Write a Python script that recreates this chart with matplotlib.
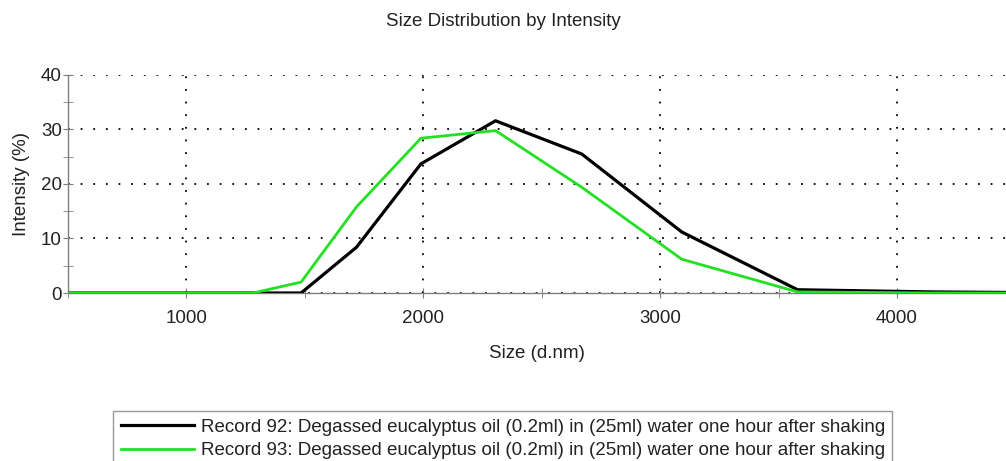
import matplotlib
matplotlib.use("Agg")
import matplotlib.pyplot as plt
from matplotlib.ticker import MultipleLocator

plt.rcParams["font.family"] = ["Liberation Sans", "DejaVu Sans"]

# size bins (d.nm) and intensity (%)
size_nm = [458.7, 531.2, 615.1, 712.4, 825.0, 955.4, 1106, 1281, 1484, 1718,
           1990, 2305, 2669, 3091, 3580, 4145, 4801]
rec92 = [0, 0, 0, 0, 0, 0, 0, 0, 0, 8.4, 23.7, 31.6, 25.5, 11.2, 0.6, 0.2, 0]
rec93 = [0, 0, 0, 0, 0, 0, 0, 0, 2.0, 15.8, 28.4, 29.8, 19.4, 6.2, 0.2, 0, 0]
labels = ["Record 92: Degassed eucalyptus oil (0.2ml) in (25ml) water one hour after shaking",
          "Record 93: Degassed eucalyptus oil (0.2ml) in (25ml) water one hour after shaking"]

C92, C93 = "#000000", "#22e022"
FG = "#222222"
SPINE = "#7f7f7f"
FS = 13.5

fig = plt.figure(figsize=(10.06, 4.61), dpi=100)
ax = fig.add_axes([68 / 1006, 1 - 293 / 461, 1 - 68 / 1006, (293 - 75) / 461])

l1, = ax.plot(size_nm, rec92, color=C92, lw=2.3, label=labels[0], zorder=3)
l2, = ax.plot(size_nm, rec93, color=C93, lw=2.0, label=labels[1], zorder=4)

ax.set_xlim(500, 4460)
ax.set_ylim(0, 40)
ax.xaxis.set_major_locator(MultipleLocator(1000))
ax.xaxis.set_minor_locator(MultipleLocator(500))
ax.yaxis.set_major_locator(MultipleLocator(10))
ax.yaxis.set_minor_locator(MultipleLocator(5))

ax.grid(True, which="major", color="black", linestyle=(0, (1, 6)), linewidth=1.3)
for s in ("top", "right"):
    ax.spines[s].set_visible(False)
for s in ("left", "bottom"):
    ax.spines[s].set_color(SPINE)
    ax.spines[s].set_linewidth(1.0)

ax.tick_params(axis="both", which="both", direction="inout", length=7, color=SPINE,
               labelsize=FS, labelcolor=FG)
ax.tick_params(axis="x", which="major", pad=9)
ax.tick_params(axis="y", which="major", pad=1)

ax.set_xlabel("Size (d.nm)", fontsize=FS, color=FG, labelpad=13)
ax.set_ylabel("Intensity (%)", fontsize=FS, color=FG, labelpad=8)
fig.text(0.5, 1 - 22 / 461, "Size Distribution by Intensity", ha="center",
         va="center", fontsize=FS, color=FG)

leg = fig.legend(handles=[l1, l2], loc="upper left",
                 bbox_to_anchor=(113 / 1006, 1 - 411 / 461), fontsize=FS,
                 frameon=True, fancybox=False, edgecolor=SPINE,
                 handlelength=3.9, handletextpad=0.37, borderpad=0.4,
                 labelspacing=0.35, borderaxespad=0)
leg.get_frame().set_linewidth(1.0)
for t in leg.get_texts():
    t.set_color(FG)

fig.savefig("out.png", dpi=100)
